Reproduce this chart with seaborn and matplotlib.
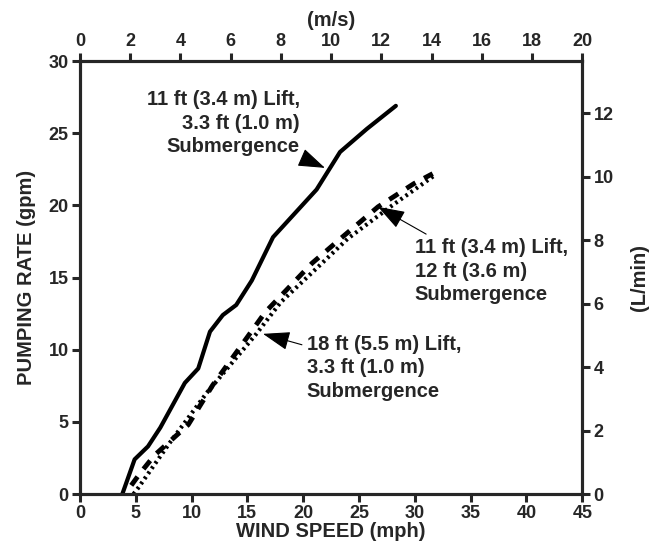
import numpy as np
import pandas as pd
import seaborn as sns
import matplotlib.pyplot as plt

# wind speed (mph) vs pumping rate (gpm)
solid_x = [3.8, 4.9, 6.1, 7.2, 9.4, 10.6, 11.65, 12.8, 14.0, 15.4, 17.3, 21.2, 23.3, 25.7, 28.3]
solid_y = [0.0, 2.4, 3.3, 4.6, 7.7, 8.7, 11.25, 12.4, 13.1, 14.8, 17.8, 21.1, 23.7, 25.3, 26.9]

dash_x = [4.6, 5.4, 6.7, 9.7, 11.9, 14.0, 16.6, 20.8, 23.5, 26.7, 29.9, 31.6]
dash_y = [0.6, 1.45, 2.7, 4.8, 7.55, 9.8, 12.6, 16.0, 17.8, 19.9, 21.5, 22.2]

dot_x = [4.8, 5.2, 8.0, 11.35, 15.7, 18.0, 20.6, 24.0, 27.8, 31.8]
dot_y = [0.0, 0.4, 3.5, 7.0, 11.0, 13.3, 15.2, 17.7, 19.9, 22.1]

labels = ["11 ft (3.4 m) Lift,\n3.3 ft (1.0 m)\nSubmergence",
          "11 ft (3.4 m) Lift,\n12 ft (3.6 m)\nSubmergence",
          "18 ft (5.5 m) Lift,\n3.3 ft (1.0 m)\nSubmergence"]

sns.set_style("ticks")
plt.rcParams['font.family'] = ['Liberation Sans', 'DejaVu Sans']

fig = plt.figure(figsize=(6.55, 5.48), dpi=100)
ax = fig.add_axes([0.122, 0.0985, 0.767, 0.79])

sns.lineplot(x=solid_x, y=solid_y, ax=ax, color='black', lw=3)
sns.lineplot(x=dash_x, y=dash_y, ax=ax, color='black', lw=3.5, linestyle=(0, (2.2, 2.0)))
sns.lineplot(x=dot_x, y=dot_y, ax=ax, color='black', lw=3, linestyle=(0, (0.6, 0.9)))

ax.set_xlim(0, 45)
ax.set_ylim(0, 30)
ax.set_xticks(np.arange(0, 46, 5))
ax.set_yticks(np.arange(0, 31, 5))
ax.set_xlabel("WIND SPEED (mph)", fontsize=14.5, fontweight='bold', labelpad=0)
ax.set_ylabel("PUMPING RATE (gpm)", fontsize=14.5, fontweight='bold', labelpad=9)

ax_r = ax.twinx()
ax_r.set_ylim(0, 13.64)
ax_r.set_yticks(np.arange(0, 13, 2))
ax_r.set_ylabel("(L/min)", fontsize=14.5, fontweight='bold', labelpad=12)

ax_t = ax.twiny()
ax_t.set_xlim(0, 20)
ax_t.set_xticks(np.arange(0, 21, 2))
ax_t.set_xlabel("(m/s)", fontsize=14.5, fontweight='bold', labelpad=5)

for a in (ax, ax_r, ax_t):
    for s in a.spines.values():
        s.set_linewidth(2.2)
        s.set_visible(True)
    a.tick_params(width=2.2, length=6, labelsize=13, pad=2)
    for t in a.get_xticklabels() + a.get_yticklabels():
        t.set_fontweight('bold')

arrow = dict(arrowstyle='-|>,head_length=1.3,head_width=0.45', mutation_scale=13,
             color='black', lw=0.8, shrinkA=1, shrinkB=0)
txt = dict(fontsize=14.5, fontweight='bold', va='center', linespacing=1.3)
ax.annotate(labels[0], xy=(21.95, 22.6), xytext=(19.7, 25.7), ha='right',
            arrowprops=arrow, multialignment='right', **txt)
ax.annotate(labels[1], xy=(26.7, 19.9), xytext=(30.0, 15.45), ha='left',
            arrowprops=arrow, **txt)
ax.annotate(labels[2], xy=(16.4, 11.1), xytext=(20.3, 8.75), ha='left',
            arrowprops=arrow, **txt)

fig.savefig("out.png", dpi=100)
